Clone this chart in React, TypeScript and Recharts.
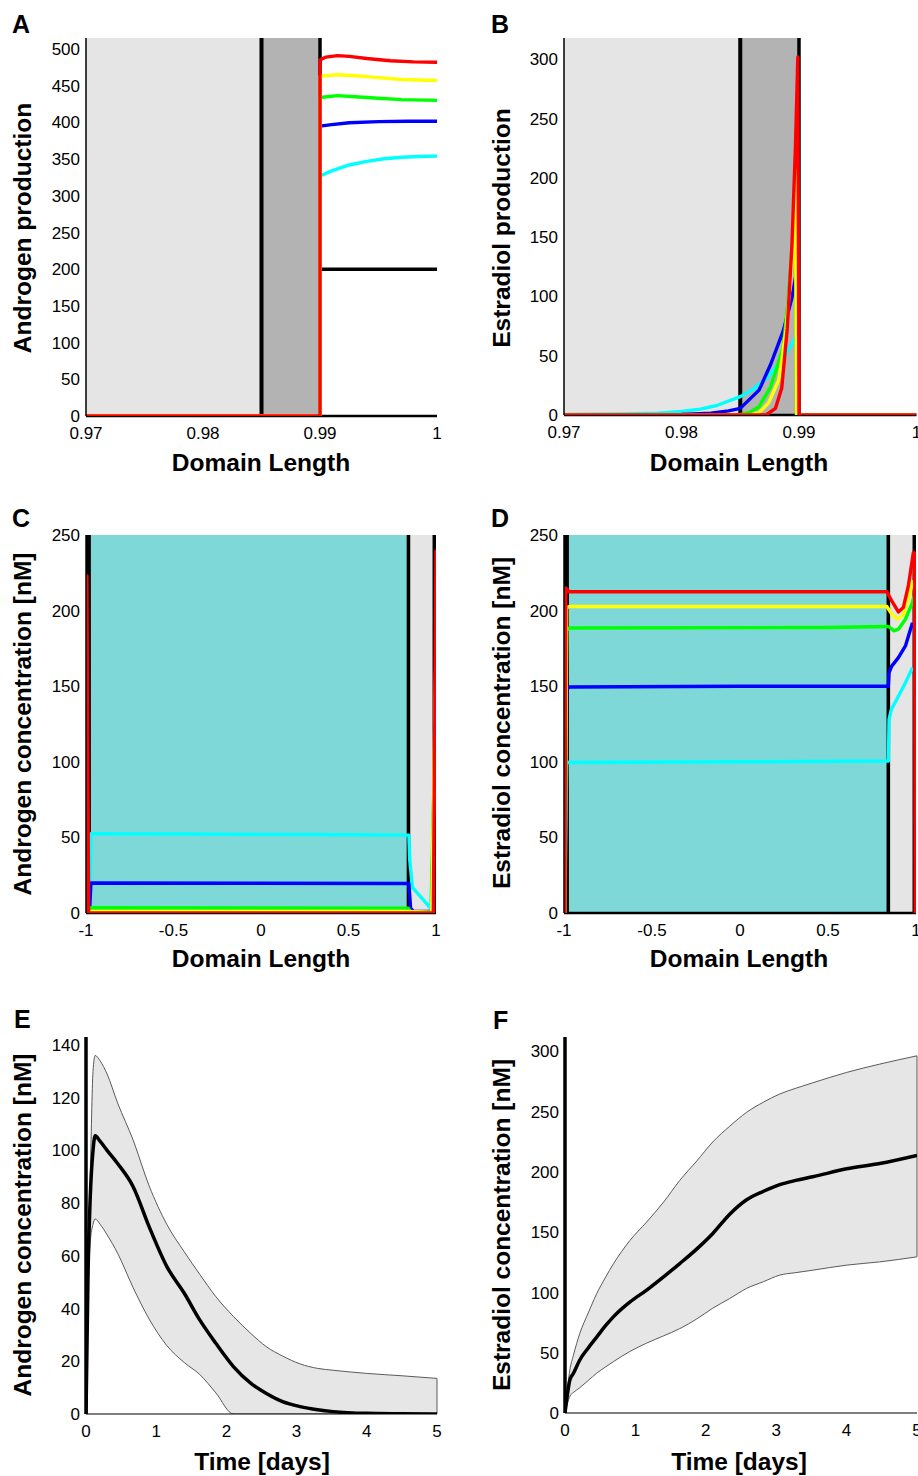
import React from "react";
import {
    ComposedChart,
    Line,
    Area,
    XAxis,
    YAxis,
    ReferenceArea,
    ReferenceLine,
} from "recharts";

type Pt = [number, number];

const FONT = '"Liberation Sans", Arial, Helvetica, sans-serif';
const RED = "#ff0000";
const YELLOW = "#ffff00";
const GREEN = "#00ff00";
const BLUE = "#0000ff";
const CYAN = "#00ffff";
const LIGHT = "#e5e5e5";
const DARK = "#b3b3b3";
const TEAL = "#7fd8d8";

// ---- Panel A: androgen production (x, value)
const aBlack: Pt[] = [[0.99, 200], [1, 200]];
const aCyan: Pt[] = [[0.97, 0], [0.99, 0], [0.99, 327], [0.991, 334], [0.9925, 342], [0.994, 347], [0.9955, 350.5], [0.997, 352.5], [0.9985, 353.5], [1, 354]];
const aBlue: Pt[] = [[0.97, 0], [0.99, 0], [0.99, 395], [0.991, 397], [0.9925, 399.5], [0.995, 401], [0.9975, 401.5], [1, 401.5]];
const aGreen: Pt[] = [[0.97, 0], [0.99, 0], [0.99, 434], [0.9915, 436.5], [0.993, 435], [0.995, 433], [0.997, 431], [1, 430]];
const aYellow: Pt[] = [[0.97, 0], [0.99, 0], [0.99, 463], [0.9915, 465], [0.993, 463.5], [0.995, 461], [0.997, 458.5], [1, 457]];
const aRed: Pt[] = [[0.97, 0], [0.99, 0], [0.99, 485], [0.9905, 489], [0.9915, 491], [0.9925, 490], [0.994, 487], [0.996, 484], [0.998, 482.5], [1, 482]];

// ---- Panel B: estradiol production
const bCyan: Pt[] = [[0.97, 0.5], [0.975, 0.8], [0.978, 1.5], [0.98, 3], [0.9816, 5], [0.983, 8], [0.985, 15.5], [0.986, 21], [0.98725, 31], [0.98866, 47.7], [0.9898, 67], [0.9898, 0], [1, 0]];
const bBlue: Pt[] = [[0.97, 0.3], [0.98, 0.5], [0.9825, 1.5], [0.984, 3.5], [0.985, 5.6], [0.9866, 21], [0.9876, 43], [0.98866, 71], [0.9894, 99], [0.9898, 121], [0.9898, 0], [1, 0]];
const bGreen: Pt[] = [[0.97, 0], [0.985, 0.3], [0.9858, 2.2], [0.9866, 7], [0.9876, 24], [0.98866, 57], [0.9891, 99], [0.9895, 155], [0.9897, 185], [0.9898, 0], [1, 0]];
const bYellow: Pt[] = [[0.97, 0], [0.986, 0.3], [0.9866, 2], [0.9874, 10], [0.9883, 30], [0.9889, 72], [0.9894, 128], [0.9897, 206], [0.9898, 0], [1, 0]];
const bRed: Pt[] = [[0.97, 0], [0.9872, 0], [0.988, 5.6], [0.98853, 22.5], [0.989, 73], [0.9894, 143], [0.9897, 227], [0.9899, 302], [0.99, 0], [1, 0]];

// ---- Panel C: androgen concentration
const cCyan: Pt[] = [[-0.98, 0], [-0.972, 52.5], [-0.5, 52.2], [0, 52], [0.5, 51.8], [0.845, 51.5], [0.85, 35], [0.865, 17], [0.97, 3], [0.975, 22], [1, 130]];
const cBlue: Pt[] = [[-0.98, 0], [-0.972, 19.8], [0.845, 19.5], [0.855, 3], [0.87, 1], [0.975, 1], [1, 150]];
const cGreen: Pt[] = [[-0.98, 0], [-0.972, 3.5], [0.84, 3.2], [0.855, 1], [0.975, 0.5], [1, 165]];
const cYellow: Pt[] = [[-0.98, 0], [-0.972, 1], [0.84, 1], [0.975, 0.3], [1, 175]];
const cRed: Pt[] = [[-1, 0], [-0.995, 223], [-0.985, 0], [0.985, 0], [1, 240]];

// ---- Panel D: estradiol concentration
const dCyan: Pt[] = [[-0.995, 0], [-0.985, 100], [-0.97, 99.5], [0, 100], [0.843, 100.5], [0.847, 128], [0.86, 134.6], [0.9, 143.4], [0.94, 152.3], [0.98, 162.3]];
const dBlue: Pt[] = [[-0.995, 0], [-0.985, 148], [-0.97, 149.5], [0, 150], [0.843, 150], [0.847, 159], [0.862, 163.3], [0.9, 168.9], [0.94, 176.6], [0.98, 192]];
const dGreen: Pt[] = [[-0.995, 0], [-0.985, 187], [-0.97, 188.5], [0.5, 188.8], [0.835, 189.5], [0.85, 189], [0.875, 186.6], [0.9, 187.7], [0.94, 194.3], [0.98, 205.4], [0.987, 209]];
const dYellow: Pt[] = [[-0.995, 0], [-0.985, 202], [-0.97, 202.7], [0.835, 202.7], [0.862, 197.6], [0.895, 194.3], [0.928, 197.6], [0.956, 207.6], [0.975, 216], [0.985, 220]];
const dRed: Pt[] = [[-0.995, 0], [-0.99, 215], [-0.97, 212.5], [0.835, 212.5], [0.862, 206.4], [0.9, 199.1], [0.928, 202], [0.956, 216], [0.985, 238.5], [0.992, 238], [0.996, 0]];

// ---- Panel E: androgen over time (mean and band)
const eTime = [0, 0.03, 0.06, 0.1, 0.13, 0.2, 0.3, 0.45, 0.67, 0.9, 1.15, 1.4, 1.62, 1.85, 2.1, 2.35, 2.57, 2.8, 3.05, 3.3, 3.52, 4, 4.5, 5];
const eMean = [0, 55, 82, 100, 105.5, 103.5, 100, 95, 86.3, 71, 56, 45.8, 35.7, 26.8, 18, 11.6, 7.8, 4.7, 2.8, 1.6, 0.9, 0.25, 0.1, 0];
const eHigh = [0, 60, 90, 130, 136, 134, 129, 118, 104, 86.5, 72, 61.5, 53, 44.5, 37, 30.5, 25.5, 22, 19, 17.3, 16.6, 15.4, 14.5, 13.5];
const eLow = [0, 45, 65, 72, 74, 72, 68, 61, 48, 36, 26, 19.5, 15, 8, 0, 0, 0, 0, 0, 0, 0, 0, 0, 0];

// ---- Panel F: estradiol over time (mean and band)
const fTime = [0, 0.07, 0.12, 0.21, 0.33, 0.45, 0.57, 0.69, 0.92, 1.16, 1.4, 1.63, 1.87, 2.1, 2.34, 2.58, 2.82, 3.05, 3.28, 3.52, 4, 4.47, 5];
const fMean = [0, 27.6, 33, 44, 54, 63, 72, 80, 92, 102, 113, 124, 136, 149, 165, 177, 184, 189.5, 193, 196, 202.6, 207, 213.7];
const fHigh = [0, 36, 48, 66, 83, 99, 112, 124, 143, 158.5, 175, 193, 209, 225, 238, 249.5, 258, 264.7, 269.5, 274, 282.6, 289.5, 296.4];
const fLow = [0, 14, 17, 21, 27, 33, 38, 42.7, 51, 58, 64, 70, 78, 87, 95, 103.4, 109, 114.4, 116.5, 118.5, 122.7, 125.4, 129.6];

const domainTicks = [0.97, 0.98, 0.99, 1];
const symTicks = [-1, -0.5, 0, 0.5, 1];
const dayTicks = [0, 1, 2, 3, 4, 5];
const ticksA = [0, 50, 100, 150, 200, 250, 300, 350, 400, 450, 500];
const ticksB = [0, 50, 100, 150, 200, 250, 300];
const ticksCD = [0, 50, 100, 150, 200, 250];
const ticksE = [0, 20, 40, 60, 80, 100, 120, 140];
const ticksF = [0, 50, 100, 150, 200, 250, 300];

const toXY = (pts: Pt[]) => pts.map(([x, y]) => ({ x, y }));
const band = (t: number[], lo: number[], hi: number[], mean: number[]) =>
    t.map((x, i) => ({ x, lo: lo[i], hi: hi[i], mean: mean[i], range: [lo[i], hi[i]] }));

const Y_W = 50;
const X_H = 30;
const tickStyle = { fontSize: 17, fill: "#000", fontFamily: FONT };

interface PanelProps {
    left: number;
    top: number;
    width: number;
    height: number;
    plot: [number, number, number, number];
    xDomain: [number, number];
    yDomain: [number, number];
    xTicks: number[];
    yTicks: number[];
    data?: any[];
    leftAxisWidth?: number;
    bottomAxis?: boolean;
    children: React.ReactNode;
}

function Panel(p: PanelProps) {
    const [x0, y0, x1, y1] = p.plot;
    const margin = {
        left: x0 - p.left - Y_W,
        right: p.left + p.width - x1,
        top: y0 - p.top,
        bottom: p.top + p.height - y1 - X_H,
    };
    return (
        <div style={{ position: "absolute", left: p.left, top: p.top }}>
            <ComposedChart width={p.width} height={p.height} data={p.data} margin={margin}>
                <XAxis
                    type="number"
                    dataKey="x"
                    domain={p.xDomain}
                    ticks={p.xTicks}
                    interval={0}
                    allowDataOverflow
                    tick={tickStyle}
                    tickLine={false}
                    tickSize={0}
                    tickMargin={11}
                    height={X_H}
                    axisLine={p.bottomAxis ? { stroke: "#000", strokeWidth: 1.2 } : false}
                />
                <YAxis
                    type="number"
                    domain={p.yDomain}
                    ticks={p.yTicks}
                    interval={0}
                    allowDataOverflow
                    tick={tickStyle}
                    tickLine={false}
                    tickSize={0}
                    tickMargin={6}
                    width={Y_W}
                    axisLine={{ stroke: "#000", strokeWidth: p.leftAxisWidth ?? 1.5 }}
                />
                {p.children}
            </ComposedChart>
        </div>
    );
}

function series(pts: Pt[], color: string, width = 3.4) {
    return (
        <Line
            data={toXY(pts)}
            dataKey="y"
            type="linear"
            stroke={color}
            strokeWidth={width}
            strokeLinejoin="round"
            dot={false}
            activeDot={false}
            isAnimationActive={false}
        />
    );
}

function bandSeries(rows: any[]) {
    const last = rows[rows.length - 1];
    return [
        <Area key="fill" dataKey="range" type="monotone" fill="#e6e6e6" fillOpacity={1} stroke="none" activeDot={false} isAnimationActive={false} />,
        <Line key="hi" dataKey="hi" type="monotone" stroke="#5a5a5a" strokeWidth={1} dot={false} activeDot={false} isAnimationActive={false} />,
        <Line key="lo" dataKey="lo" type="monotone" stroke="#5a5a5a" strokeWidth={1} dot={false} activeDot={false} isAnimationActive={false} />,
        <ReferenceLine key="edge" segment={[{ x: last.x, y: last.lo }, { x: last.x, y: last.hi }]} stroke="#5a5a5a" strokeWidth={1} />,
        <Line key="mean" dataKey="mean" type="monotone" stroke="#000" strokeWidth={3.5} dot={false} activeDot={false} isAnimationActive={false} />,
    ];
}

// bottom edge drawn under the curves, so the red trace can cover it as in the source
function boundaryRegions() {
    return [
        <ReferenceArea key="teal" x1={-0.972} x2={0.832} fill={TEAL} fillOpacity={1} stroke="none" />,
        <ReferenceArea key="grey" x1={0.853} x2={0.98} fill={LIGHT} fillOpacity={1} stroke="none" />,
        <ReferenceArea key="b1" x1={-1} x2={-0.972} fill="#000" fillOpacity={1} stroke="none" />,
        <ReferenceArea key="b2" x1={0.832} x2={0.853} fill="#000" fillOpacity={1} stroke="none" />,
        <ReferenceArea key="b3" x1={0.98} x2={1} fill="#000" fillOpacity={1} stroke="none" />,
        <ReferenceLine key="base" y={0} stroke="#000" strokeWidth={2.5} />,
    ];
}

function shellRegions() {
    return [
        <ReferenceArea key="l" x1={0.97} x2={0.985} fill={LIGHT} fillOpacity={1} stroke="none" />,
        <ReferenceArea key="d" x1={0.985} x2={0.99} fill={DARK} fillOpacity={1} stroke="none" />,
        <ReferenceLine key="r1" x={0.985} stroke="#000" strokeWidth={4} />,
        <ReferenceLine key="r2" x={0.99} stroke="#000" strokeWidth={3.5} />,
        <ReferenceLine key="base" y={0} stroke="#000" strokeWidth={2.5} />,
    ];
}

const letterStyle = { fontFamily: FONT, fontWeight: 700, fontSize: 25, fill: "#000" };
const titleStyle = { fontFamily: FONT, fontWeight: 700, fontSize: 24.5, fill: "#000" };

function YTitle({ x, y, text }: { x: number; y: number; text: string }) {
    return (
        <text x={x} y={y} transform={`rotate(-90 ${x} ${y})`} textAnchor="middle" dominantBaseline="central" style={titleStyle}>
            {text}
        </text>
    );
}

function XTitle({ x, y, text }: { x: number; y: number; text: string }) {
    return (
        <text x={x} y={y} textAnchor="middle" dominantBaseline="central" style={titleStyle}>
            {text}
        </text>
    );
}

export default function App() {
    const rowsE = band(eTime, eLow, eHigh, eMean);
    const rowsF = band(fTime, fLow, fHigh, fMean);

    return (
        <div style={{ position: "absolute", left: 0, top: 0, width: 918, height: 1476, background: "#fff", overflow: "hidden" }}>
            {/* A */}
            <Panel left={0} top={0} width={460} height={480} plot={[86, 38, 437, 416]} xDomain={[0.97, 1]} yDomain={[0, 515]} xTicks={domainTicks} yTicks={ticksA}>
                {shellRegions()}
                {series(aBlack, "#000")}
                {series(aCyan, CYAN)}
                {series(aBlue, BLUE)}
                {series(aGreen, GREEN)}
                {series(aYellow, YELLOW)}
                {series(aRed, RED)}
            </Panel>

            {/* B */}
            <Panel left={480} top={0} width={438} height={480} plot={[564, 38, 916.5, 415]} xDomain={[0.97, 1]} yDomain={[0, 318]} xTicks={domainTicks} yTicks={ticksB}>
                {shellRegions()}
                {series(bCyan, CYAN)}
                {series(bBlue, BLUE)}
                {series(bGreen, GREEN)}
                {series(bYellow, YELLOW)}
                {series(bRed, RED)}
            </Panel>

            {/* C */}
            <Panel left={0} top={500} width={460} height={480} plot={[86, 535, 436, 913]} xDomain={[-1, 1]} yDomain={[0, 250]} xTicks={symTicks} yTicks={ticksCD}>
                {boundaryRegions()}
                {series(cCyan, CYAN)}
                {series(cBlue, BLUE)}
                {series(cGreen, GREEN)}
                {series(cYellow, YELLOW)}
                {series(cRed, RED)}
            </Panel>

            {/* D */}
            <Panel left={480} top={500} width={438} height={480} plot={[564, 535, 916, 913]} xDomain={[-1, 1]} yDomain={[0, 250]} xTicks={symTicks} yTicks={ticksCD}>
                {boundaryRegions()}
                {series(dCyan, CYAN)}
                {series(dBlue, BLUE)}
                {series(dGreen, GREEN)}
                {series(dYellow, YELLOW)}
                {series(dRed, RED)}
            </Panel>

            {/* E */}
            <Panel left={0} top={1000} width={460} height={476} plot={[86, 1037, 437, 1414]} xDomain={[0, 5]} yDomain={[0, 143]} xTicks={dayTicks} yTicks={ticksE} data={rowsE} leftAxisWidth={3.5} bottomAxis>
                {bandSeries(rowsE)}
            </Panel>

            {/* F */}
            <Panel left={480} top={1000} width={438} height={476} plot={[565, 1037, 917, 1413]} xDomain={[0, 5]} yDomain={[0, 312]} xTicks={dayTicks} yTicks={ticksF} data={rowsF} leftAxisWidth={3.5} bottomAxis>
                {bandSeries(rowsF)}
            </Panel>

            <svg width={918} height={1476} style={{ position: "absolute", left: 0, top: 0, pointerEvents: "none" }}>
                <text x={12} y={33} style={letterStyle}>A</text>
                <text x={491} y={33} style={letterStyle}>B</text>
                <text x={12} y={527} style={letterStyle}>C</text>
                <text x={491} y={527} style={letterStyle}>D</text>
                <text x={14} y={1028} style={letterStyle}>E</text>
                <text x={493} y={1029} style={letterStyle}>F</text>

                <YTitle x={22} y={228} text="Androgen production" />
                <YTitle x={501} y={228} text="Estradiol production" />
                <YTitle x={22} y={724} text="Androgen concentration [nM]" />
                <YTitle x={501} y={723} text="Estradiol concentration [nM]" />
                <YTitle x={22} y={1225} text="Androgen concentration [nM]" />
                <YTitle x={501} y={1225} text="Estradiol concentration [nM]" />

                <XTitle x={261} y={462} text="Domain Length" />
                <XTitle x={739} y={462} text="Domain Length" />
                <XTitle x={261} y={958} text="Domain Length" />
                <XTitle x={739} y={958} text="Domain Length" />
                <XTitle x={262} y={1461} text="Time [days]" />
                <XTitle x={739} y={1461} text="Time [days]" />
            </svg>
        </div>
    );
}
